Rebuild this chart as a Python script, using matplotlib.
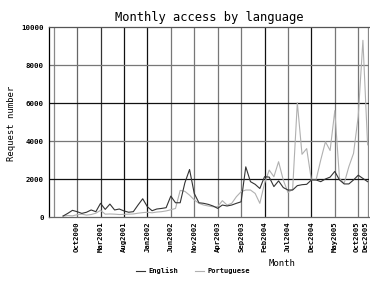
import matplotlib
matplotlib.use('Agg')
from matplotlib import pyplot as plt
from matplotlib import transforms

# months counted from Oct2000 (= 0); data begins Jul2000
start = -3
english = [50, 190, 350, 280, 190, 250, 370, 280, 720, 400, 680, 370,
           420, 320, 250, 280, 630, 960, 540, 330, 420, 450, 490, 1100,
           750, 750, 1800, 2500, 1240, 750, 720, 665, 580, 455, 630, 580,
           630, 720, 800, 2640, 1860, 1720, 1500, 2120, 2100, 1600, 1900, 1550,
           1420, 1420, 1650, 1700, 1720, 1950, 1950, 1860, 2000, 2100, 2400, 1950,
           1740, 1740, 1950, 2200, 2030, 1860]
portuguese = [50, 80, 60, 120, 150, 100, 130, 200, 350, 150, 160, 150,
              130, 140, 150, 160, 200, 230, 250, 220, 260, 280, 320, 380,
              450, 1400, 1350, 1150, 900, 720, 630, 580, 540, 540, 860, 630,
              720, 1070, 1330, 1420, 1420, 1240, 720, 1770, 2470, 2120, 2910, 1950,
              1290, 1450, 6020, 3300, 3600, 1950, 1950, 3000, 3960, 3500, 5600, 2030,
              1770, 2650, 3350, 5300, 9300, 3800]
tick_pos = [0, 5, 10, 15, 20, 25, 30, 35, 40, 45, 50, 55, 60, 62]
tick_labels = ['Oct2000', 'Mar2001', 'Aug2001', 'Jan2002', 'Jun2002', 'Nov2002',
               'Apr2003', 'Sep2003', 'Feb2004', 'Jul2004', 'Dec2004', 'May2005',
               'Oct2005', 'Dec2005']
y_ticks = [0, 2000, 4000, 6000, 8000, 10000]

mono = 'DejaVu Sans Mono'
months = list(range(start, start + len(english)))

fig = plt.figure(figsize=(3.7, 2.82), dpi=100)
ax = fig.add_axes([49 / 370, 65 / 282, 320 / 370, 190 / 282])

# grid, some lines black and some grey like the original
vgrid = {-5: '#888888', 0: '#666666', 5: '#333333', 10: '#111111', 15: '#111111',
         20: '#777777', 25: '#777777', 30: '#777777', 35: '#777777', 40: '#111111',
         45: '#777777', 50: '#111111', 55: '#777777', 60: '#777777', 62: '#888888'}
for x, c in vgrid.items():
    ax.axvline(x, color=c, lw=0.9, zorder=1)
hgrid = {2000: '#111111', 4000: '#777777', 6000: '#111111', 8000: '#777777'}
for y, c in hgrid.items():
    ax.axhline(y, color=c, lw=0.9, zorder=1)

ax.plot(months, english, color='#333333', lw=0.8, zorder=3, label='English')
ax.plot(months, portuguese, color='#b0b0b0', lw=0.8, zorder=2, label='Portuguese')

ax.set_xlim(-6, 62.3)
ax.set_ylim(0, 10000)
ax.set_xticks(tick_pos)
ax.set_xticklabels(tick_labels, rotation=90, family=mono, fontsize=5.2,
                   fontweight='bold', va='top')
ax.set_yticks(y_ticks)
ax.set_yticklabels([str(v) for v in y_ticks], family=mono, fontsize=5.3,
                   fontweight='bold')
ax.tick_params(axis='both', length=0)
ax.tick_params(axis='x', pad=3)
ax.tick_params(axis='y', pad=3.6)

# last two labels are crowded at the right edge, nudge them left
labels = ax.get_xticklabels()
for lab, dx in [(labels[-2], -2.0), (labels[-1], -1.6)]:
    lab.set_transform(lab.get_transform() +
                      transforms.ScaledTranslation(dx / 100, 0, fig.dpi_scale_trans))

ax.spines['left'].set_color('black')
ax.spines['bottom'].set_color('#666666')
ax.spines['top'].set_color('#555555')
ax.spines['right'].set_visible(False)
for s in ax.spines.values():
    s.set_linewidth(0.9)

fig.text(209 / 370, 1 - 17 / 282, 'Monthly access by language', family=mono,
         fontsize=8.7, ha='center', va='center')
fig.text(12 / 370, 1 - 123 / 282, 'Request number', family=mono, fontsize=6.4,
         rotation=90, ha='center', va='center')
fig.text(282 / 370, 1 - 263 / 282, 'Month', family=mono, fontsize=6.5,
         ha='center', va='center')

fig.legend(loc='center', bbox_to_anchor=(193 / 370, 1 - 271 / 282), ncol=2,
           frameon=False, handlelength=1.3, handletextpad=0.4, columnspacing=2.5,
           prop={'family': mono, 'size': 5, 'weight': 'bold'})

fig.savefig('out.png', dpi=100)
